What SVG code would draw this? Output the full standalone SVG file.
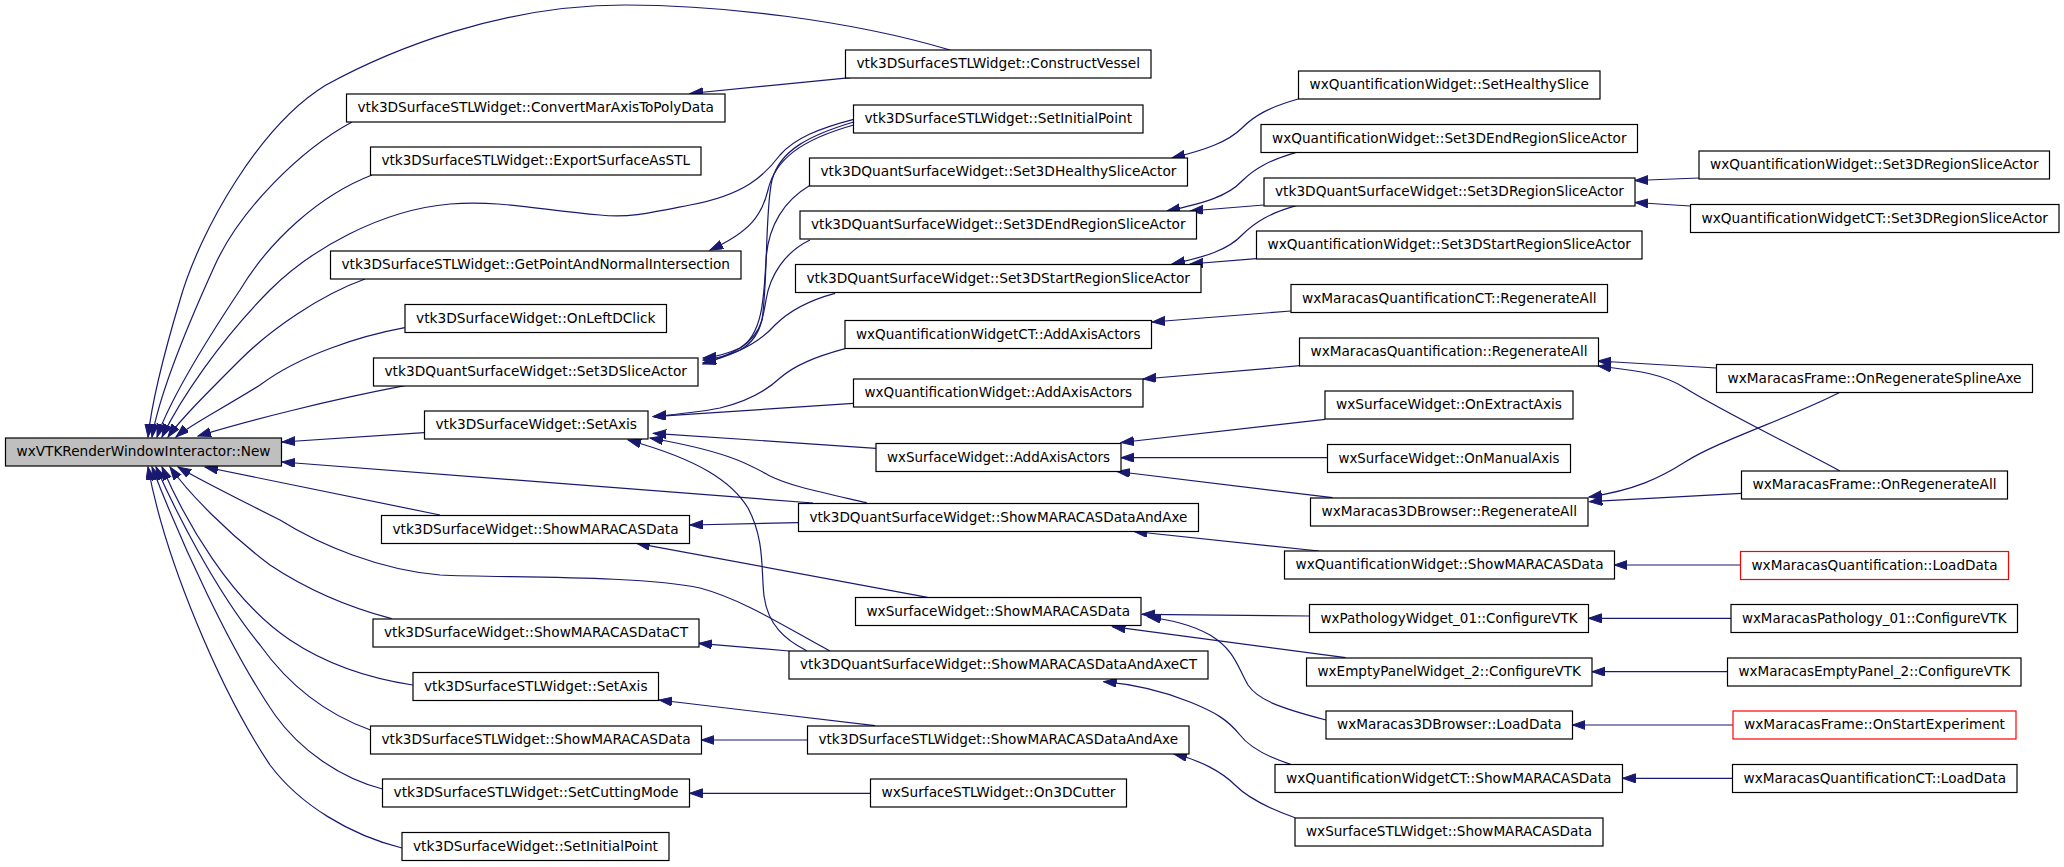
<svg xmlns="http://www.w3.org/2000/svg" width="2064" height="867" viewBox="0 0 2064 867">
<style>
.n rect{fill:#ffffff;stroke:#000000;stroke-width:1.2}
.n text{font-family:"DejaVu Sans Condensed","DejaVu Sans","Liberation Sans",sans-serif;font-size:13.5px;fill:#000000}
.root rect{fill:#bfbfbf}
.red rect{stroke:#ff0000}
.e path{fill:none;stroke:#191970;stroke-width:1.2;marker-end:url(#arr)}
</style>
<defs>
<marker id="arr" markerUnits="userSpaceOnUse" markerWidth="14" markerHeight="10" refX="13" refY="4.5" orient="auto">
<path d="M0,0 L13,4.5 L0,9 z" fill="#191970" stroke="#191970" stroke-width="1"/>
</marker>
</defs>
<rect width="2064" height="867" fill="#ffffff"/>
<g id="edges" class="e">
<path d="M950,50 C850,20 720,5 625,5 C500,5 390,50 326,85 C260,125 200,230 180,300 C165,350 152,400 148,437"/>
<path d="M352,122 C300,150 240,210 215,265 C190,320 160,390 152,437"/>
<path d="M372,175 C320,195 270,240 240,290 C200,350 170,400 157,437"/>
<path d="M853.7,119.3 C820,128 795,138 780,155 C765,175 745,195 690,205 C650,213 630,218 600,215 C540,210 500,200 450,204 C380,210 310,250 270,290 C220,340 180,400 162,437"/>
<path d="M365,279 C320,295 270,330 240,360 C205,395 180,420 168,437"/>
<path d="M404.8,327.7 C360,336 300,355 260,385 C220,410 190,425 176,437"/>
<path d="M404.8,385.7 C330,400 250,420 198,436"/>
<path d="M424.2,432.7 L282,442"/>
<path d="M813,503 L282,462"/>
<path d="M440,515 L205,467"/>
<path d="M830,651 C790,630 745,600 700,588 C640,575 500,578 440,575 C380,570 320,545 280,520 C230,495 200,480 178,467"/>
<path d="M391.6,618.7 C340,605 300,585 270,565 C230,535 190,495 170,467"/>
<path d="M412.8,685 C360,677 320,660 290,640 C230,600 185,520 162,467"/>
<path d="M370.5,730 C320,712 285,680 260,645 C215,590 175,510 156,467"/>
<path d="M382.4,789 C340,778 300,750 275,715 C230,650 180,540 152,467"/>
<path d="M402,848 C350,835 300,805 270,765 C220,690 165,560 148,467"/>
<path d="M850.6,77.7 L690,93.5"/>
<path d="M853.7,125 C800,140 775,160 768,190 C762,215 750,232 710,250"/>
<path d="M853.7,122 C810,135 780,150 772,180 C765,210 768,280 762,320 C755,345 730,355 703,364"/>
<path d="M809.3,185.7 C785,200 768,225 766,260 C764,300 762,335 740,348 C725,355 715,357 703,358"/>
<path d="M810,240 C785,252 770,275 766,300 C762,325 758,340 740,350 C725,357 712,359 703,360"/>
<path d="M835,293.3 C810,300 790,310 775,325 C760,342 735,355 703,363"/>
<path d="M1298.2,99 C1270,107 1255,115 1242,128 C1228,142 1205,150 1172,158"/>
<path d="M1296.4,152.3 C1270,160 1255,168 1242,181 C1228,196 1205,203 1167,211"/>
<path d="M1263.8,205 L1190,211"/>
<path d="M1296.4,205.7 C1270,213 1255,222 1242,235 C1228,250 1205,257 1172,264"/>
<path d="M1256.3,258.7 L1190,264"/>
<path d="M1699,178 L1635,180.5"/>
<path d="M1690,206 L1635,202.5"/>
<path d="M1291,311 L1152,322"/>
<path d="M1300,365.7 L1143,379"/>
<path d="M1325,419.3 L1121,442.5"/>
<path d="M1327.6,457.7 L1121,457.7"/>
<path d="M1332.5,497.7 L1117,471.5"/>
<path d="M1319,551 L1134,531.5"/>
<path d="M1716.3,368 L1598,361"/>
<path d="M1840,471 C1790,444 1720,410 1685,388 C1660,372 1630,370 1598,366"/>
<path d="M1840,392.3 C1790,418 1720,440 1685,462 C1660,478 1635,490 1589,497"/>
<path d="M1741.6,493.3 L1589.4,501.7"/>
<path d="M1740.3,565 L1614.3,565"/>
<path d="M1731.2,618.3 L1588.5,618.3"/>
<path d="M1727.7,671.7 L1592,671.7"/>
<path d="M1732.9,725 L1572.4,725"/>
<path d="M1309.6,616 L1142,614.3"/>
<path d="M1345.6,657.7 L1112.4,626.7"/>
<path d="M1326,720 C1280,708 1258,700 1248,685 C1238,668 1235,650 1210,635 C1190,624 1170,620 1148,617"/>
<path d="M1732.5,778.3 L1622.5,778.3"/>
<path d="M1290.7,764.3 C1268,757 1250,748 1240,735 C1228,720 1215,712 1190,702 C1160,690 1130,684 1103.6,681.7"/>
<path d="M1295,817.7 C1262,806 1245,795 1235,785 C1222,772 1200,760 1174,754"/>
<path d="M807.5,740 L701.4,740"/>
<path d="M870.4,793.3 L689.6,793.3"/>
<path d="M789,651 L698.8,643.3"/>
<path d="M806.7,650.7 C785,640 768,625 764,596 C761,570 765,540 748,508 C732,482 700,460 628,440"/>
<path d="M866.7,502.7 C820,492 790,486 770,476 C750,465 730,452 650,438"/>
<path d="M845,348.7 C815,357 795,365 780,378 C765,392 745,402 720,408 C700,412 680,414 653,416.5"/>
<path d="M853.3,403.3 L653.3,416.7"/>
<path d="M876,448.3 L653.3,433.3"/>
<path d="M798.3,522.7 L690,525"/>
<path d="M927.6,597.3 L636.7,543.3"/>
<path d="M875,725.7 L659,700"/>
</g>
<g id="n_new" class="n root"><rect x="5.5" y="438" width="276" height="28"/><text x="16.5" y="456" textLength="254" lengthAdjust="spacingAndGlyphs">wxVTKRenderWindowInteractor::New</text></g>
<g id="n_constructvessel" class="n"><rect x="845.5" y="50" width="305.5" height="28"/><text x="856.5" y="68" textLength="283.5" lengthAdjust="spacingAndGlyphs">vtk3DSurfaceSTLWidget::ConstructVessel</text></g>
<g id="n_convertmaraxis" class="n"><rect x="346.5" y="94" width="378.5" height="28"/><text x="357.5" y="112" textLength="356.5" lengthAdjust="spacingAndGlyphs">vtk3DSurfaceSTLWidget::ConvertMarAxisToPolyData</text></g>
<g id="n_stl_setinitialpoint" class="n"><rect x="853.5" y="105" width="289.5" height="28"/><text x="864.5" y="123" textLength="267.5" lengthAdjust="spacingAndGlyphs">vtk3DSurfaceSTLWidget::SetInitialPoint</text></g>
<g id="n_wxqw_sethealthyslice" class="n"><rect x="1298.5" y="71" width="301.5" height="28"/><text x="1309.5" y="89" textLength="279.5" lengthAdjust="spacingAndGlyphs">wxQuantificationWidget::SetHealthySlice</text></g>
<g id="n_wxqw_set3dendregion" class="n"><rect x="1261" y="124.5" width="376.5" height="28"/><text x="1272" y="142.5" textLength="354.5" lengthAdjust="spacingAndGlyphs">wxQuantificationWidget::Set3DEndRegionSliceActor</text></g>
<g id="n_exportsurface" class="n"><rect x="370.5" y="147" width="330.5" height="28"/><text x="381.5" y="165" textLength="308.5" lengthAdjust="spacingAndGlyphs">vtk3DSurfaceSTLWidget::ExportSurfaceAsSTL</text></g>
<g id="n_wxqw_set3dregion" class="n"><rect x="1699" y="151" width="350.5" height="28"/><text x="1710" y="169" textLength="328.5" lengthAdjust="spacingAndGlyphs">wxQuantificationWidget::Set3DRegionSliceActor</text></g>
<g id="n_set3dhealthy" class="n"><rect x="809.5" y="158" width="378" height="28"/><text x="820.5" y="176" textLength="356" lengthAdjust="spacingAndGlyphs">vtk3DQuantSurfaceWidget::Set3DHealthySliceActor</text></g>
<g id="n_qsw_set3dregion" class="n"><rect x="1264" y="178" width="371" height="28"/><text x="1275" y="196" textLength="349" lengthAdjust="spacingAndGlyphs">vtk3DQuantSurfaceWidget::Set3DRegionSliceActor</text></g>
<g id="n_wxqwct_set3dregion" class="n"><rect x="1690.5" y="204.5" width="368.5" height="28"/><text x="1701.5" y="222.5" textLength="346.5" lengthAdjust="spacingAndGlyphs">wxQuantificationWidgetCT::Set3DRegionSliceActor</text></g>
<g id="n_set3dendregion" class="n"><rect x="800" y="211" width="396.5" height="28"/><text x="811" y="229" textLength="374.5" lengthAdjust="spacingAndGlyphs">vtk3DQuantSurfaceWidget::Set3DEndRegionSliceActor</text></g>
<g id="n_wxqw_set3dstartregion" class="n"><rect x="1256.5" y="231" width="385.5" height="28"/><text x="1267.5" y="249" textLength="363.5" lengthAdjust="spacingAndGlyphs">wxQuantificationWidget::Set3DStartRegionSliceActor</text></g>
<g id="n_getpoint" class="n"><rect x="330.5" y="251" width="410.5" height="28"/><text x="341.5" y="269" textLength="388.5" lengthAdjust="spacingAndGlyphs">vtk3DSurfaceSTLWidget::GetPointAndNormalIntersection</text></g>
<g id="n_set3dstartregion" class="n"><rect x="795.5" y="264.5" width="405.5" height="28"/><text x="806.5" y="282.5" textLength="383.5" lengthAdjust="spacingAndGlyphs">vtk3DQuantSurfaceWidget::Set3DStartRegionSliceActor</text></g>
<g id="n_wxmqct_regenerateall" class="n"><rect x="1291" y="284.5" width="316.5" height="28"/><text x="1302" y="302.5" textLength="294.5" lengthAdjust="spacingAndGlyphs">wxMaracasQuantificationCT::RegenerateAll</text></g>
<g id="n_onleftdclick" class="n"><rect x="405" y="304.5" width="261.5" height="28"/><text x="416" y="322.5" textLength="239.5" lengthAdjust="spacingAndGlyphs">vtk3DSurfaceWidget::OnLeftDClick</text></g>
<g id="n_wxqwct_addaxis" class="n"><rect x="845" y="320.5" width="306.5" height="28"/><text x="856" y="338.5" textLength="284.5" lengthAdjust="spacingAndGlyphs">wxQuantificationWidgetCT::AddAxisActors</text></g>
<g id="n_wxmq_regenerateall" class="n"><rect x="1299.5" y="338" width="299" height="28"/><text x="1310.5" y="356" textLength="277" lengthAdjust="spacingAndGlyphs">wxMaracasQuantification::RegenerateAll</text></g>
<g id="n_set3dslice" class="n"><rect x="373.5" y="358" width="324.5" height="28"/><text x="384.5" y="376" textLength="302.5" lengthAdjust="spacingAndGlyphs">vtk3DQuantSurfaceWidget::Set3DSliceActor</text></g>
<g id="n_onregeneratesplineaxe" class="n"><rect x="1716.5" y="364.5" width="316" height="28"/><text x="1727.5" y="382.5" textLength="294" lengthAdjust="spacingAndGlyphs">wxMaracasFrame::OnRegenerateSplineAxe</text></g>
<g id="n_wxqw_addaxis" class="n"><rect x="853.5" y="379" width="289.5" height="28"/><text x="864.5" y="397" textLength="267.5" lengthAdjust="spacingAndGlyphs">wxQuantificationWidget::AddAxisActors</text></g>
<g id="n_onextractaxis" class="n"><rect x="1325" y="391" width="248" height="28"/><text x="1336" y="409" textLength="226" lengthAdjust="spacingAndGlyphs">wxSurfaceWidget::OnExtractAxis</text></g>
<g id="n_sw_setaxis" class="n"><rect x="424.5" y="411" width="223.5" height="28"/><text x="435.5" y="429" textLength="201.5" lengthAdjust="spacingAndGlyphs">vtk3DSurfaceWidget::SetAxis</text></g>
<g id="n_wxsw_addaxis" class="n"><rect x="876" y="443.5" width="245" height="28"/><text x="887" y="461.5" textLength="223" lengthAdjust="spacingAndGlyphs">wxSurfaceWidget::AddAxisActors</text></g>
<g id="n_onmanualaxis" class="n"><rect x="1327.5" y="444.5" width="243" height="28"/><text x="1338.5" y="462.5" textLength="221" lengthAdjust="spacingAndGlyphs">wxSurfaceWidget::OnManualAxis</text></g>
<g id="n_onregenerateall" class="n"><rect x="1741.5" y="471" width="266" height="28"/><text x="1752.5" y="489" textLength="244" lengthAdjust="spacingAndGlyphs">wxMaracasFrame::OnRegenerateAll</text></g>
<g id="n_qsw_showandaxe" class="n"><rect x="798.5" y="503.5" width="400" height="28"/><text x="809.5" y="521.5" textLength="378" lengthAdjust="spacingAndGlyphs">vtk3DQuantSurfaceWidget::ShowMARACASDataAndAxe</text></g>
<g id="n_wxm3db_regenerateall" class="n"><rect x="1310.5" y="498" width="277.5" height="28"/><text x="1321.5" y="516" textLength="255.5" lengthAdjust="spacingAndGlyphs">wxMaracas3DBrowser::RegenerateAll</text></g>
<g id="n_sw_showdata" class="n"><rect x="381.5" y="515.5" width="308" height="28"/><text x="392.5" y="533.5" textLength="286" lengthAdjust="spacingAndGlyphs">vtk3DSurfaceWidget::ShowMARACASData</text></g>
<g id="n_wxqw_showdata" class="n"><rect x="1284.5" y="551" width="330" height="28"/><text x="1295.5" y="569" textLength="308" lengthAdjust="spacingAndGlyphs">wxQuantificationWidget::ShowMARACASData</text></g>
<g id="n_wxmq_loaddata" class="n red"><rect x="1740.5" y="551.5" width="268" height="28"/><text x="1751.5" y="569.5" textLength="246" lengthAdjust="spacingAndGlyphs">wxMaracasQuantification::LoadData</text></g>
<g id="n_wxsw_showdata" class="n"><rect x="855.5" y="597.5" width="285.5" height="28"/><text x="866.5" y="615.5" textLength="263.5" lengthAdjust="spacingAndGlyphs">wxSurfaceWidget::ShowMARACASData</text></g>
<g id="n_wxpathology_configure" class="n"><rect x="1309.5" y="604.5" width="279" height="28"/><text x="1320.5" y="622.5" textLength="257" lengthAdjust="spacingAndGlyphs">wxPathologyWidget_01::ConfigureVTK</text></g>
<g id="n_sw_showdatact" class="n"><rect x="373" y="619" width="326" height="28"/><text x="384" y="637" textLength="304" lengthAdjust="spacingAndGlyphs">vtk3DSurfaceWidget::ShowMARACASDataCT</text></g>
<g id="n_qsw_showandaxect" class="n"><rect x="789" y="651" width="419" height="28"/><text x="800" y="669" textLength="397" lengthAdjust="spacingAndGlyphs">vtk3DQuantSurfaceWidget::ShowMARACASDataAndAxeCT</text></g>
<g id="n_wxemptypanel_configure" class="n"><rect x="1306.5" y="658" width="285.5" height="28"/><text x="1317.5" y="676" textLength="263.5" lengthAdjust="spacingAndGlyphs">wxEmptyPanelWidget_2::ConfigureVTK</text></g>
<g id="n_stl_setaxis" class="n"><rect x="413" y="672.5" width="245.5" height="28"/><text x="424" y="690.5" textLength="223.5" lengthAdjust="spacingAndGlyphs">vtk3DSurfaceSTLWidget::SetAxis</text></g>
<g id="n_wxm3db_loaddata" class="n"><rect x="1326" y="711" width="246.5" height="28"/><text x="1337" y="729" textLength="224.5" lengthAdjust="spacingAndGlyphs">wxMaracas3DBrowser::LoadData</text></g>
<g id="n_stl_showdata" class="n"><rect x="370.5" y="726" width="331" height="28"/><text x="381.5" y="744" textLength="309" lengthAdjust="spacingAndGlyphs">vtk3DSurfaceSTLWidget::ShowMARACASData</text></g>
<g id="n_stl_showandaxe" class="n"><rect x="807.5" y="726" width="381.5" height="28"/><text x="818.5" y="744" textLength="359.5" lengthAdjust="spacingAndGlyphs">vtk3DSurfaceSTLWidget::ShowMARACASDataAndAxe</text></g>
<g id="n_wxqwct_showdata" class="n"><rect x="1275" y="764.5" width="347.5" height="28"/><text x="1286" y="782.5" textLength="325.5" lengthAdjust="spacingAndGlyphs">wxQuantificationWidgetCT::ShowMARACASData</text></g>
<g id="n_stl_setcuttingmode" class="n"><rect x="382.5" y="779" width="307" height="28"/><text x="393.5" y="797" textLength="285" lengthAdjust="spacingAndGlyphs">vtk3DSurfaceSTLWidget::SetCuttingMode</text></g>
<g id="n_on3dcutter" class="n"><rect x="870.5" y="779" width="256" height="28"/><text x="881.5" y="797" textLength="234" lengthAdjust="spacingAndGlyphs">wxSurfaceSTLWidget::On3DCutter</text></g>
<g id="n_wxsstlw_showdata" class="n"><rect x="1295" y="818" width="308" height="28"/><text x="1306" y="836" textLength="286" lengthAdjust="spacingAndGlyphs">wxSurfaceSTLWidget::ShowMARACASData</text></g>
<g id="n_sw_setinitialpoint" class="n"><rect x="402" y="832.5" width="267" height="28"/><text x="413" y="850.5" textLength="245" lengthAdjust="spacingAndGlyphs">vtk3DSurfaceWidget::SetInitialPoint</text></g>
<g id="n_wxmpathology_configure" class="n"><rect x="1731" y="604.5" width="286.5" height="28"/><text x="1742" y="622.5" textLength="264.5" lengthAdjust="spacingAndGlyphs">wxMaracasPathology_01::ConfigureVTK</text></g>
<g id="n_wxmemptypanel_configure" class="n"><rect x="1727.5" y="658" width="293.5" height="28"/><text x="1738.5" y="676" textLength="271.5" lengthAdjust="spacingAndGlyphs">wxMaracasEmptyPanel_2::ConfigureVTK</text></g>
<g id="n_onstartexperiment" class="n red"><rect x="1733" y="711" width="283" height="28"/><text x="1744" y="729" textLength="261" lengthAdjust="spacingAndGlyphs">wxMaracasFrame::OnStartExperiment</text></g>
<g id="n_wxmqct_loaddata" class="n"><rect x="1732.5" y="764.5" width="284.5" height="28"/><text x="1743.5" y="782.5" textLength="262.5" lengthAdjust="spacingAndGlyphs">wxMaracasQuantificationCT::LoadData</text></g>
</svg>
